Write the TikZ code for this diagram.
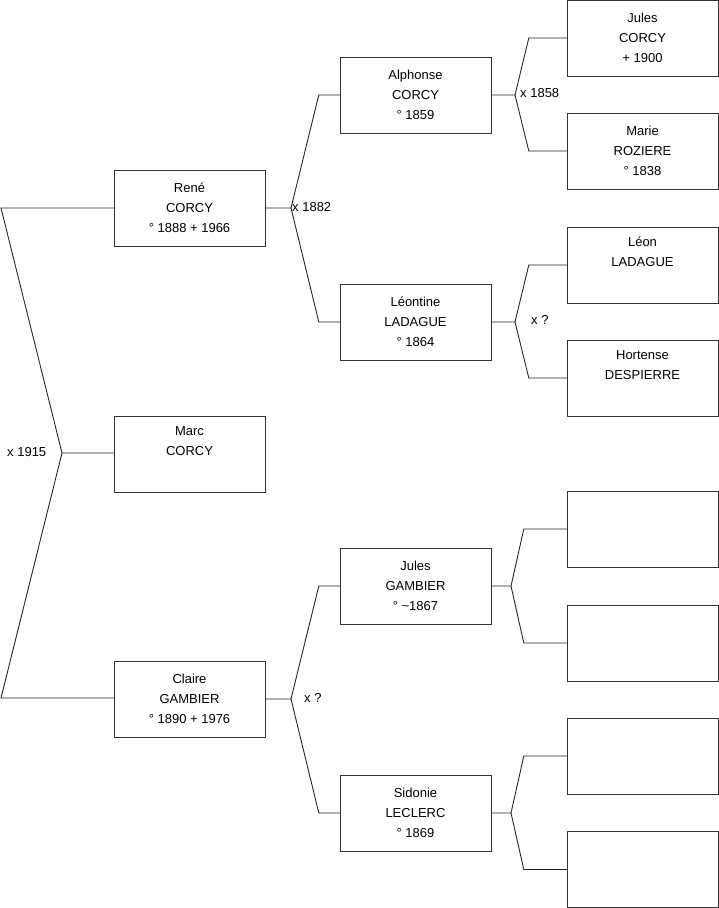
\documentclass[tikz,border=0pt]{standalone}
\usepackage{fontspec}
\setmainfont{Liberation Sans}
\usepackage{tikz}
\usetikzlibrary{positioning,calc}
\definecolor{boxgray}{HTML}{333333}
\tikzset{
  person/.style={draw=boxgray,minimum width=151pt,minimum height=76pt,align=center,inner sep=0pt,
    font=\fontsize{13}{20}\selectfont},
  link/.style={draw=black!85,line width=0.9pt},
  wed/.style={anchor=west,inner sep=0pt,font=\fontsize{13}{16}\selectfont}
}

\begin{document}
\begin{tikzpicture}[x=1pt,y=-1pt]
\useasboundingbox (0,0) rectangle (719,908);
% generation 1
\node[person] (marc) at (189.5,454) {Marc\\CORCY\\\strut};
% generation 2
\node[person] (rene) at (189.5,208) {René\\CORCY\\° 1888 + 1966};
\node[person] (claire) at (189.5,699) {Claire\\GAMBIER\\° 1890 + 1976};
% generation 3
\node[person] (alphonse) at (415.5,95) {Alphonse\\CORCY\\° 1859};
\node[person] (leontine) at (415.5,322) {Léontine\\LADAGUE\\° 1864};
\node[person] (julesg) at (415.5,586) {Jules\\GAMBIER\\° {\char`\~}1867};
\node[person] (sidonie) at (415.5,813) {Sidonie\\LECLERC\\° 1869};
% generation 4
\node[person] (julesc) at (642.5,38) {Jules\\CORCY\\+ 1900};
\node[person] (marie) at (642.5,151) {Marie\\ROZIERE\\° 1838};
\node[person] (leon) at (642.5,265) {Léon\\LADAGUE\\\strut};
\node[person] (hortense) at (642.5,378) {Hortense\\DESPIERRE\\\strut};
\node[person] (e1) at (642.5,529) {};
\node[person] (e2) at (642.5,643) {};
\node[person] (e3) at (642.5,756) {};
\node[person] (e4) at (642.5,869.5) {};

% forks
\coordinate (f0) at (62,453);
\coordinate (f0t) at (1,208);
\coordinate (f0b) at (1,698);
\draw[link] (rene.west |- f0t) -- (f0t) -- (f0) -- (marc.west |- f0);
\draw[link] (f0) -- (f0b) -- (claire.west |- f0b);
\node[wed] (m1915) at (7,452) {x 1915};

\coordinate (f1) at (291,208);
\draw[link] (rene.east) -- (f1) -- ($(alphonse.west)+(-21,0)$) -- (alphonse.west);
\draw[link] (f1) -- ($(leontine.west)+(-21,0)$) -- (leontine.west);
\node[wed] (m1882) at (292,207) {x 1882};

\coordinate (f2) at (291,699);
\draw[link] (claire.east) -- (f2) -- ($(julesg.west)+(-21,0)$) -- (julesg.west);
\draw[link] (f2) -- ($(sidonie.west)+(-21,0)$) -- (sidonie.west);
\node[wed] (mq1) at (304,698) {x ?};

\coordinate (f3) at (515,95);
\draw[link] (alphonse.east) -- (f3) -- ($(julesc.west)+(-38,0)$) -- (julesc.west);
\draw[link] (f3) -- ($(marie.west)+(-38,0)$) -- (marie.west);
\node[wed] (m1858) at (520,93) {x 1858};

\coordinate (f4) at (515,322);
\draw[link] (leontine.east) -- (f4) -- ($(leon.west)+(-38,0)$) -- (leon.west);
\draw[link] (f4) -- ($(hortense.west)+(-38,0)$) -- (hortense.west);
\node[wed] (mq2) at (531,320) {x ?};

\coordinate (f5) at (511,586);
\draw[link] (julesg.east) -- (f5) -- ($(e1.west)+(-43,0)$) -- (e1.west);
\draw[link] (f5) -- ($(e2.west)+(-43,0)$) -- (e2.west);

\coordinate (f6) at (511,813);
\draw[link] (sidonie.east) -- (f6) -- ($(e3.west)+(-43,0)$) -- (e3.west);
\draw[link] (f6) -- ($(e4.west)+(-43,0)$) -- (e4.west);
\end{tikzpicture}
\end{document}
